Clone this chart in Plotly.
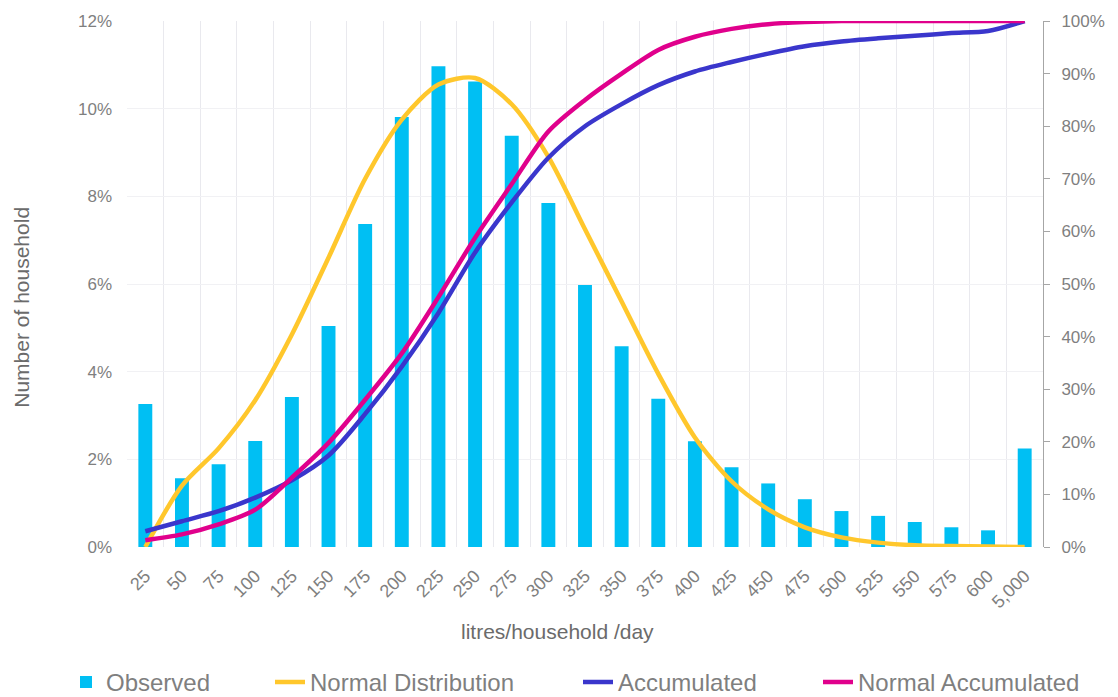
import plotly.graph_objects as go

categories = ["25", "50", "75", "100", "125", "150", "175", "200", "225", "250",
              "275", "300", "325", "350", "375", "400", "425", "450", "475", "500",
              "525", "550", "575", "600", "5,000"]

observed = [3.26, 1.57, 1.89, 2.42, 3.42, 5.04, 7.37, 9.81, 10.97, 10.62,
            9.38, 7.85, 5.98, 4.58, 3.38, 2.41, 1.82, 1.45, 1.09, 0.82,
            0.71, 0.57, 0.45, 0.38, 2.25]

normal_distribution = [0.0, 1.4, 2.25, 3.35, 4.85, 6.6, 8.4, 9.75, 10.55, 10.7,
                       10.1, 8.9, 7.25, 5.6, 3.95, 2.5, 1.5, 0.86, 0.45, 0.22,
                       0.1, 0.04, 0.02, 0.01, 0.0]

accumulated = [3.0, 4.9, 6.8, 9.4, 12.7, 17.4, 25.3, 34.3, 44.5, 56.0,
               65.5, 74.0, 80.0, 84.2, 87.8, 90.4, 92.2, 93.8, 95.2, 96.1,
               96.7, 97.2, 97.7, 98.1, 100.0]

normal_accumulated = [1.3, 2.4, 4.3, 7.1, 13.2, 19.8, 28.0, 36.8, 47.5, 58.8,
                      69.0, 79.0, 85.0, 90.0, 94.5, 97.0, 98.5, 99.4, 99.8, 100.0,
                      100.0, 100.0, 100.0, 100.0, 100.0]

FONT = "Liberation Sans, Arial, sans-serif"
GRAY = "#7f7f7f"

fig = go.Figure()
fig.add_trace(go.Bar(x=categories, y=observed, name="Observed",
                     marker=dict(color="#00BFF3", line=dict(width=0)),
                     legend="legend"))
fig.add_trace(go.Scatter(x=categories, y=normal_distribution, name="Normal Distribution",
                         mode="lines", line=dict(color="#FFC72C", width=4.5, shape="spline", smoothing=0.8),
                         legend="legend2"))
fig.add_trace(go.Scatter(x=categories, y=accumulated, name="Accumulated", yaxis="y2",
                         mode="lines", line=dict(color="#3A36CC", width=4.5, shape="spline", smoothing=0.8),
                         legend="legend3"))
fig.add_trace(go.Scatter(x=categories, y=normal_accumulated, name="Normal Accumulated", yaxis="y2",
                         mode="lines", line=dict(color="#E0008C", width=4.5, shape="spline", smoothing=0.8),
                         legend="legend4"))

# page body has an 8px default margin; layout numbers below are in page pixels
OFF = 8
L, R, T, B = 127 - OFF, 1043 - OFF, 21 - OFF, 547.5 - OFF
W, H = 1118 - OFF, 697 - OFF

def px_x(p):
    return (p - OFF - L) / (R - L)

def px_y(p):
    return (B - (p - OFF)) / (B - T)

leg_common = dict(orientation="h", yanchor="middle", y=px_y(683), xanchor="left",
                  font=dict(family=FONT, size=24, color=GRAY), bgcolor="rgba(0,0,0,0)")

fig.update_layout(
    width=W, height=H,
    margin=dict(l=L, r=W - R, t=T, b=H - B, autoexpand=False),
    paper_bgcolor="white", plot_bgcolor="white",
    showlegend=True,
    bargap=0.62,
    font=dict(family=FONT, color=GRAY),
    xaxis=dict(type="category", tickangle=-45, tickson="boundaries",
               showgrid=True, gridcolor="#e9e9ee", gridwidth=1,
               showline=False, zeroline=False, ticks="", ticklabelstandoff=14,
               tickfont=dict(family=FONT, size=18, color=GRAY)),
    yaxis=dict(range=[0, 12], dtick=2, ticksuffix="%", showgrid=True,
               gridcolor="#f1f1f4", zeroline=False, showline=False, ticks="",
               ticklabelstandoff=14,
               tickfont=dict(family=FONT, size=17, color=GRAY)),
    yaxis2=dict(range=[0, 100], dtick=10, ticksuffix="%", overlaying="y", side="right",
                showgrid=False, zeroline=False, showline=True, linecolor="#a6a6a6",
                ticks="outside", ticklen=6, tickcolor="#a6a6a6", ticklabelstandoff=8,
                tickfont=dict(family=FONT, size=17, color=GRAY)),
    legend=dict(x=px_x(66), **leg_common),
    legend2=dict(x=px_x(270), **leg_common),
    legend3=dict(x=px_x(578), **leg_common),
    legend4=dict(x=px_x(818), **leg_common),
    annotations=[
        dict(text="litres/household /day", x=px_x(557), y=px_y(632), xref="paper", yref="paper",
             xanchor="center", yanchor="middle",
             showarrow=False, font=dict(family=FONT, size=21, color="#6b6b6b")),
        dict(text="Number of household", x=px_x(22), y=px_y(308), xref="paper", yref="paper",
             xanchor="center", yanchor="middle",
             showarrow=False, textangle=-90, font=dict(family=FONT, size=21, color="#6b6b6b")),
    ],
)

fig.write_html("out.html")
